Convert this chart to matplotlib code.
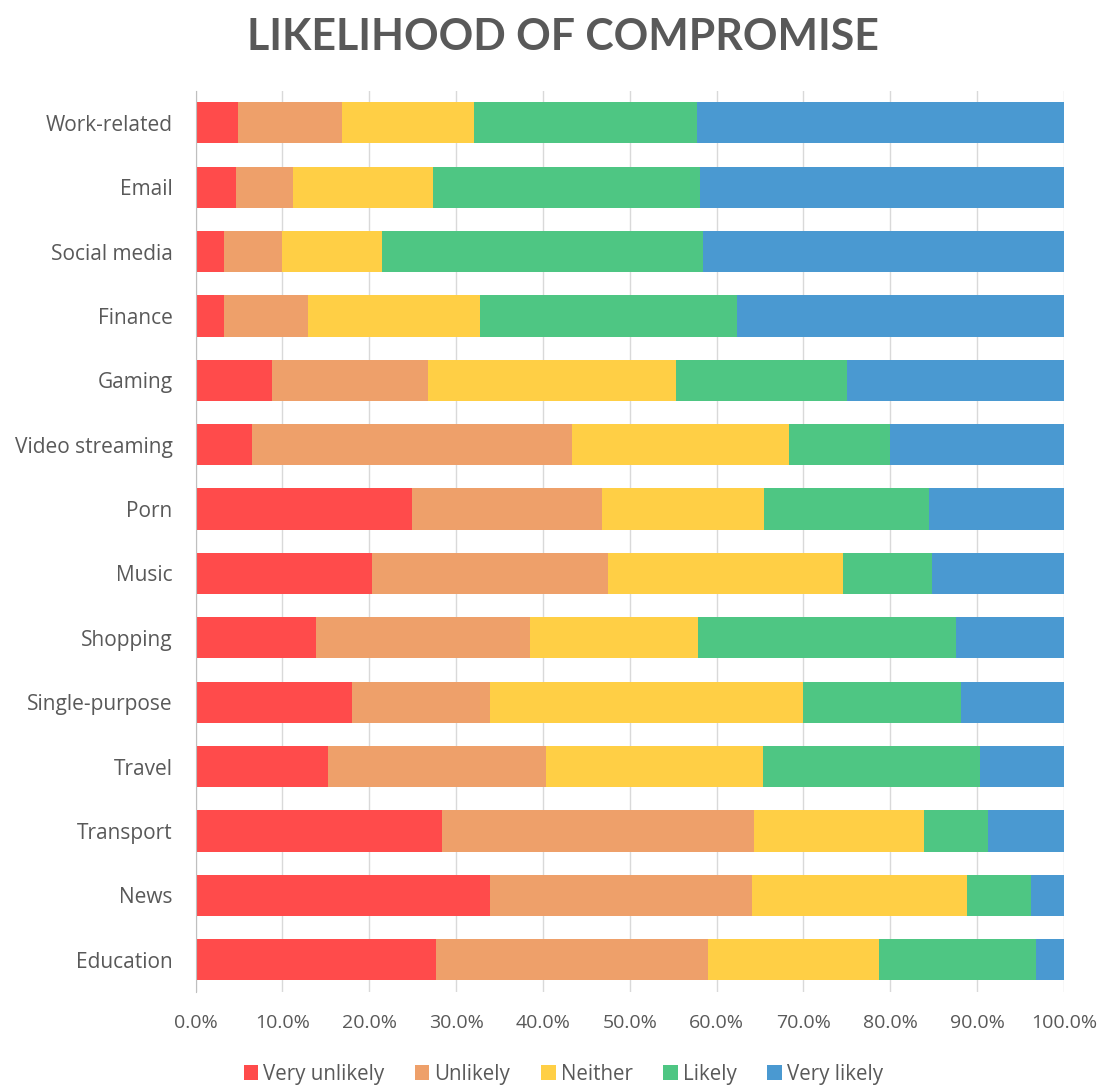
import numpy as np
import matplotlib
matplotlib.use("Agg")
from matplotlib import pyplot as plt
from matplotlib.ticker import PercentFormatter

categories = ["Work-related", "Email", "Social media", "Finance", "Gaming",
              "Video streaming", "Porn", "Music", "Shopping", "Single-purpose",
              "Travel", "Transport", "News", "Education"]
series_names = ["Very unlikely", "Unlikely", "Neither", "Likely", "Very likely"]

very_unlikely = [4.9, 4.7, 3.3, 3.3, 8.8, 6.5, 24.9, 20.3, 13.9, 18.0, 15.3, 28.4, 33.9, 27.7]
unlikely = [12.0, 6.5, 6.6, 9.7, 18.0, 36.9, 21.9, 27.2, 24.6, 15.9, 25.1, 35.9, 30.2, 31.3]
neither = [15.2, 16.1, 11.6, 19.8, 28.5, 24.9, 18.7, 27.0, 19.4, 36.0, 24.9, 19.6, 24.7, 19.7]
likely = [25.6, 30.8, 36.9, 29.5, 19.7, 11.7, 18.9, 10.3, 29.7, 18.2, 25.0, 7.3, 7.4, 18.1]
very_likely = [42.3, 41.9, 41.6, 37.7, 25.0, 20.0, 15.6, 15.2, 12.4, 11.9, 9.7, 8.8, 3.8, 3.2]

colors = ["#FF4B4B", "#EEA06A", "#FFCF45", "#4EC683", "#4A99D1"]
text_color = "#595959"

plt.rcParams['font.family'] = ['Open Sans', 'DejaVu Sans']

fig = plt.figure(figsize=(11.11, 10.86), dpi=100)
ax = fig.add_axes([0.176, 0.0866, 0.7817, 0.83])

y = np.arange(len(categories))
left = np.zeros(len(categories))
for name, vals, c in zip(series_names,
                         [very_unlikely, unlikely, neither, likely, very_likely],
                         colors):
    vals = np.array(vals)
    ax.barh(y, vals, left=left, height=0.64, color=c, label=name, zorder=3)
    left = left + vals

ax.set_xlim(0, 100)
ax.set_ylim(len(categories) - 0.5, -0.5)
ax.set_xticks(np.arange(0, 101, 10))
ax.xaxis.set_major_formatter(PercentFormatter(decimals=1))
ax.set_yticks(y)
ax.set_yticklabels(categories)
ax.tick_params(axis="both", length=0, colors=text_color)
ax.tick_params(axis="y", pad=16.5, labelsize=15)
ax.tick_params(axis="x", pad=16, labelsize=14)
ax.grid(axis="x", color="#D9D9D9", linewidth=1, zorder=0)
for s in ["top", "right", "bottom"]:
    ax.spines[s].set_visible(False)
ax.spines["left"].set_color("#BFBFBF")
ax.spines["left"].set_zorder(4)

title = fig.text(0.507, 0.966, "LIKELIHOOD OF COMPROMISE", ha="center", va="center",
                 fontsize=30, fontweight="bold", color=text_color,
                 family=["Lato", "DejaVu Sans"])
# scale title so it spans about 630 px like the original
fig.canvas.draw()
w = title.get_window_extent().width
title.set_fontsize(30 * 630 / w)

leg = fig.legend(loc="center", bbox_to_anchor=(0.507, 0.011), ncol=5, frameon=False,
                 fontsize=14.8, handlelength=0.7, handleheight=0.7,
                 handletextpad=0.25, columnspacing=1.5)
for t in leg.get_texts():
    t.set_color(text_color)

fig.savefig("out.png", dpi=100, facecolor="white")
